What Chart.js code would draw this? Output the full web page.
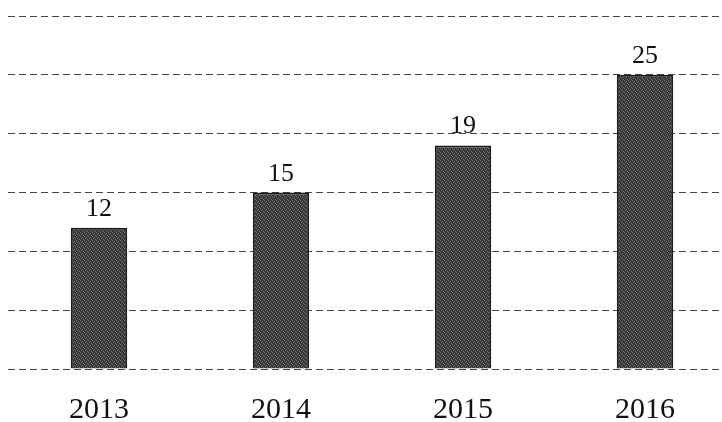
<!DOCTYPE html>
<html lang="en">
<head>
    <meta charset="UTF-8">
    <title>Bars 2013-2016</title>
    <script src="https://cdn.jsdelivr.net/npm/chart.js@4.4.0/dist/chart.umd.min.js"></script>
    <style>
        body { margin: 0; overflow: hidden; background: #fff; }
        #wrap { width: 740px; height: 422px; }
    </style>
</head>
<body>
    <div id="wrap"><canvas id="barchart" width="740" height="422"></canvas></div>

    <script>
        const years = ['2013', '2014', '2015', '2016'];
        const values = [12, 15, 19, 25];
        const yTicks = [0, 5, 10, 15, 20, 25, 30];

        // small stipple texture for the bars, like the printed scan
        function barTexture() {
            const c = document.createElement('canvas');
            c.width = 4; c.height = 4;
            const g = c.getContext('2d');
            g.fillStyle = '#353535';
            g.fillRect(0, 0, 4, 4);
            g.fillStyle = '#777';
            g.fillRect(0, 0, 1, 1);
            g.fillRect(2, 1, 1, 1);
            g.fillRect(1, 2, 1, 1);
            g.fillRect(3, 3, 1, 1);
            return g.createPattern(c, 'repeat');
        }

        // numbers above bars
        const valueLabels = {
            id: 'valueLabels',
            afterDatasetsDraw(chart) {
                const ctx = chart.ctx;
                const meta = chart.getDatasetMeta(0);
                ctx.save();
                ctx.font = '26px "Liberation Serif"';
                ctx.fillStyle = '#111';
                ctx.textAlign = 'center';
                ctx.textBaseline = 'alphabetic';
                meta.data.forEach((bar, i) => {
                    ctx.fillText(String(values[i]), bar.x, bar.y - 12);
                });
                ctx.restore();
            }
        };

        const ctx = document.getElementById('barchart').getContext('2d');
        const chart = new Chart(ctx, {
            type: 'bar',
            data: {
                labels: years,
                datasets: [{
                    data: values,
                    backgroundColor: barTexture(),
                    borderColor: '#1a1a1a',
                    borderWidth: 2,
                    categoryPercentage: 1,
                    barPercentage: 0.31
                }]
            },
            options: {
                responsive: false,
                animation: false,
                layout: { padding: { left: 8, right: 4, top: 16, bottom: 0 } },
                plugins: { legend: { display: false }, tooltip: { enabled: false } },
                scales: {
                    x: {
                        afterFit: axis => { axis.height = 53; },
                        grid: { display: false, drawTicks: false },
                        border: { display: false },
                        ticks: {
                            padding: 23,
                            color: '#111',
                            font: { family: 'Liberation Serif', size: 30 }
                        }
                    },
                    y: {
                        min: yTicks[0],
                        max: yTicks[yTicks.length - 1],
                        afterBuildTicks: axis => { axis.ticks = yTicks.map(v => ({ value: v })); },
                        grid: { color: '#444', lineWidth: 1, drawTicks: false },
                        border: { display: false, dash: [7, 4] },
                        ticks: { display: false }
                    }
                }
            },
            plugins: [valueLabels]
        });
    </script>
</body>
</html>
